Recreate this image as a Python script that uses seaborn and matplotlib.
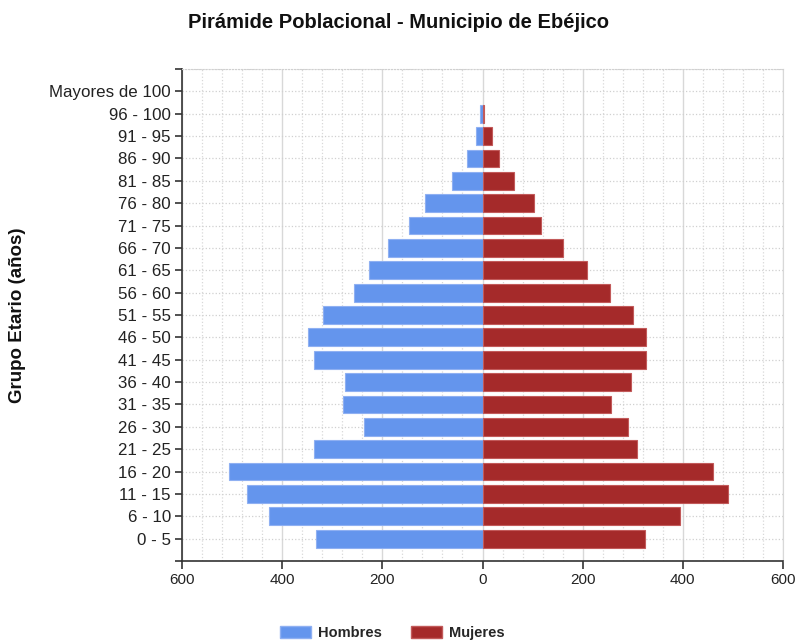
import numpy as np
import pandas as pd
import seaborn as sns
from matplotlib import pyplot as plt
from matplotlib.patches import Patch
from matplotlib.ticker import MultipleLocator, FuncFormatter

# age groups, top to bottom as in the chart
grupos = ["Mayores de 100", "96 - 100", "91 - 95", "86 - 90", "81 - 85", "76 - 80",
          "71 - 75", "66 - 70", "61 - 65", "56 - 60", "51 - 55", "46 - 50",
          "41 - 45", "36 - 40", "31 - 35", "26 - 30", "21 - 25", "16 - 20",
          "11 - 15", "6 - 10", "0 - 5"]
hombres = [0, 4, 12, 30, 61, 115, 146, 188, 227, 257, 318, 349,
           337, 275, 279, 237, 337, 507, 470, 427, 333]
mujeres = [0, 3, 18, 33, 63, 103, 117, 160, 209, 254, 300, 327,
           327, 297, 257, 291, 309, 461, 491, 394, 324]

color_h = "#6495ED"
color_m = "#A52A2A"

df = pd.DataFrame({"grupo": grupos,
                   "hombres": -np.array(hombres),
                   "mujeres": mujeres})

sns.set_style("white")
plt.rcParams['font.family'] = ['Liberation Sans', 'DejaVu Sans']

fig = plt.figure(figsize=(7.97, 6.44), dpi=100)
ax = fig.add_axes([182 / 797, 1 - 561 / 644, 601 / 797, 492 / 644])

sns.barplot(data=df, y="grupo", x="hombres", order=grupos, color=color_h,
            saturation=1, width=0.8, edgecolor="#8fb0f2", linewidth=0.8, ax=ax, zorder=3)
sns.barplot(data=df, y="grupo", x="mujeres", order=grupos, color=color_m,
            saturation=1, width=0.8, edgecolor="#c25a5a", linewidth=0.8, ax=ax, zorder=3)

# empty groups should not leave an outline at zero
for p in ax.patches:
    if p.get_width() == 0:
        p.set_linewidth(0)

ax.set_xlim(-600, 600)
ax.set_ylim(21, -1)
ax.xaxis.set_major_locator(MultipleLocator(200))
ax.xaxis.set_minor_locator(MultipleLocator(40))
ax.xaxis.set_major_formatter(FuncFormatter(lambda v, p: f"{abs(int(v))}"))

# y ticks at each group plus the axis ends
ax.set_yticks(range(-1, 22))
ax.set_yticklabels([""] + grupos + [""])

ax.grid(axis="x", which="major", color="#d8d8d8", linewidth=1.0, linestyle="-", zorder=0)
ax.grid(axis="x", which="minor", color="#d8d8d8", linewidth=0.9, linestyle=":", zorder=0)
ax.grid(axis="y", which="major", color="#d0d0d0", linewidth=0.9, linestyle=":", zorder=0)
ax.set_axisbelow(True)

for s in ["left", "bottom"]:
    ax.spines[s].set_color("#333333")
    ax.spines[s].set_linewidth(1.2)
ax.spines["right"].set_color("#d8d8d8")
ax.spines["top"].set_color("#d0d0d0")
ax.spines["top"].set_linestyle(":")

ax.tick_params(axis="y", which="major", left=True, length=5, width=1.2, color="#333333",
               labelsize=12.2, labelcolor="#222222", pad=3)
ax.tick_params(axis="x", which="major", bottom=True, length=6, width=1.2, color="#333333",
               labelsize=11, labelcolor="#222222", pad=3)
ax.tick_params(axis="x", which="minor", bottom=False)

ax.set_xlabel("")
ax.set_ylabel("Grupo Etario (años)", fontsize=13.5, fontweight="bold", color="#111111")
ax.yaxis.set_label_coords((26 - 182) / 601, 0.5)

fig.text(0.5, 1 - 22 / 644, "Pirámide Poblacional - Municipio de Ebéjico",
         ha="center", va="center", fontsize=14.5, fontweight="bold", color="#111111")

handles = [Patch(facecolor=color_h, edgecolor="#8fb0f2", label="Hombres"),
           Patch(facecolor=color_m, edgecolor="#c25a5a", label="Mujeres")]
leg = fig.legend(handles=handles, loc="center", bbox_to_anchor=(0.4925, 1 - 633 / 644),
                 ncol=2, frameon=False, handlelength=2.1, handleheight=0.9,
                 columnspacing=2.0, handletextpad=0.5,
                 prop={"weight": "bold", "size": 10.5})

fig.savefig("out.png", dpi=100)
